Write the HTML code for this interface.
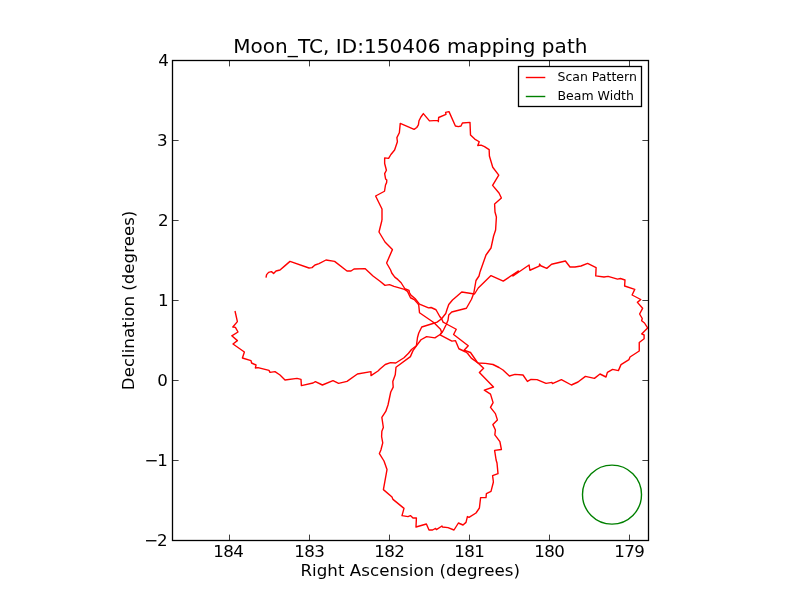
<!DOCTYPE html>
<html lang="en">
<head>
<meta charset="utf-8">
<title>Moon_TC, ID:150406 mapping path</title>
<style>
html,body{margin:0;padding:0;background:#fff;}
body{width:800px;height:600px;overflow:hidden;}
</style>
</head>
<body>
<svg width="800" height="600" viewBox="0 0 800 600" style="display:block;will-change:transform">
<rect x="0" y="0" width="800" height="600" fill="#ffffff"/>
<defs><clipPath id="ax"><rect x="172.5" y="60.5" width="476" height="480"/></clipPath></defs>
<g clip-path="url(#ax)" fill="none" stroke-linejoin="round" stroke-linecap="butt">
<polyline stroke="#ff0000" stroke-width="1.4" points="382.00,220.00 382.00,209.00 375.60,196.00 384.50,191.25 385.50,185.00 386.60,182.60 386.80,180.00 385.60,178.90 384.65,173.60 386.40,170.25 384.65,163.50 384.65,157.90 388.60,158.40 390.90,154.50 394.60,150.00 397.40,141.75 396.90,137.60 399.35,132.75 400.25,123.40 414.10,129.40 416.75,127.50 418.40,124.90 419.00,120.75 420.90,117.00 423.35,113.60 429.50,120.90 438.10,120.40 438.35,121.65 438.65,117.50 446.00,114.40 445.60,112.40 449.00,111.60 455.40,126.00 458.40,126.60 461.00,126.00 462.40,123.00 470.00,122.40 470.50,135.00 474.75,139.10 479.25,141.75 477.75,145.50 481.10,145.10 484.50,146.60 489.15,149.60 489.40,156.00 492.75,167.25 498.75,175.10 492.60,185.40 499.00,193.00 501.40,198.00 494.60,204.00 495.00,212.00 496.40,217.00 495.60,230.00 493.60,236.00 491.00,248.00 486.00,255.00 480.00,272.00"/>
<polyline stroke="#ff0000" stroke-width="1.4" points="382.00,220.00 379.00,232.00 385.00,242.00 392.40,249.60 386.60,263.00 390.60,270.00 391.75,273.00 394.75,277.10 397.75,279.40 401.10,282.75 404.90,288.75 409.00,290.40 409.40,292.50 410.90,295.10 415.00,298.50 419.50,304.10 428.50,307.90 431.10,307.50 436.00,309.75 439.75,316.50 441.60,318.75 443.10,322.10 446.50,324.00 456.25,329.25 453.60,334.50 468.25,345.75 464.10,350.25 470.50,352.50 477.25,362.25 483.60,368.25 479.40,372.40 493.50,387.00 484.35,390.20 490.50,394.10 493.10,402.60 490.50,407.40 495.40,413.60 497.40,419.90 492.90,424.60 495.40,430.00 494.85,434.90 499.90,441.60 501.40,449.50 494.60,450.40 496.10,460.00 497.00,463.00 498.00,473.60 492.60,475.60 493.40,482.00 491.00,491.40 486.40,493.60 486.00,497.60 480.60,497.60 479.40,508.00 476.00,513.00 469.00,517.40 467.40,516.60 466.00,522.40 463.00,525.00 458.40,523.00 454.00,530.00 448.00,527.60 442.40,527.00 442.00,526.00 436.40,529.60 435.60,528.40 432.60,530.00 429.00,530.00 426.40,524.00 416.00,527.00 416.40,518.00 413.00,518.00 410.40,515.60 408.00,516.60 402.00,515.60 404.00,508.40 393.00,499.40 392.00,497.00 383.40,489.60 387.00,469.60 384.00,461.00 379.40,453.60 380.90,450.00 382.75,442.90 381.60,436.50 381.85,431.25 383.35,427.50 381.85,417.40 385.75,411.40 388.00,405.00 390.75,392.00 393.20,387.10 392.80,381.50 395.25,374.75 396.00,367.25 410.40,356.60 413.00,350.60 416.60,345.60 421.00,339.75 426.60,336.60 434.90,337.90 440.10,334.50 442.00,332.60 443.50,330.00 446.10,324.75 448.00,320.25 448.75,315.00 451.75,312.00 466.40,308.25 471.50,299.25 473.75,293.25 476.00,280.50 479.00,276.00 480.00,272.00"/>
<polyline stroke="#ff0000" stroke-width="1.4" points="266.00,277.60 266.60,274.60 268.60,272.40 271.40,271.60 273.60,273.40 276.00,271.00 280.00,270.00 284.50,266.10 290.00,261.40 309.00,268.00 312.00,267.60 315.00,265.00 319.00,263.60 326.00,260.00 334.60,261.40 347.00,271.00 351.00,271.00 354.00,269.00 365.00,268.60 373.00,276.00 380.00,281.25 385.00,285.40 389.50,284.60 394.00,286.35 404.50,289.35 407.50,291.40 410.50,297.75 414.25,299.60 418.00,303.75 418.75,305.25 419.50,312.75 433.75,322.50 440.50,329.25 441.60,332.25 440.10,334.90 451.90,341.10 455.50,340.65 458.90,348.75 465.25,351.75 467.50,353.25 471.25,358.10 478.00,363.00 485.50,363.40 493.00,364.50 499.00,367.50 503.00,370.00 509.40,376.00 515.00,374.40 523.00,375.00 527.40,381.40 531.00,379.40 537.00,379.60 546.00,383.40 552.00,382.40 552.40,383.60 561.40,379.60 571.40,385.00 578.00,382.00 585.40,376.40 594.40,378.40 600.00,374.00 606.00,377.00 607.40,372.40 612.60,369.40 618.40,370.60 621.00,364.60 629.00,359.60 630.00,357.00 639.25,351.00 639.25,342.50 644.10,338.75 644.10,335.00 641.65,333.90 647.60,327.90 644.50,323.00 641.65,320.75 642.25,318.50 639.60,314.00 642.60,308.30 637.40,302.35 640.75,299.50 632.10,295.00 634.75,289.40 624.60,286.00 625.00,280.00 620.50,278.50 617.50,279.10 608.10,276.40 604.00,277.00 595.75,275.90 596.10,267.60 587.60,263.40 581.00,266.00 575.00,267.00 570.00,267.00 565.40,261.00 551.60,264.25 546.75,268.40 540.75,265.75 539.60,264.10 539.25,266.10 529.90,270.25 529.10,265.00 513.00,276.00 518.30,271.00 503.25,281.10 491.00,275.60 478.25,288.00 474.50,294.00 461.75,292.00 454.25,298.50 452.50,300.00 448.75,304.50 446.90,309.75 445.75,313.50 441.60,318.75 437.10,322.10 433.75,323.25 421.75,327.00 418.75,333.00 417.50,337.50 416.40,345.75 411.50,349.50 408.50,353.25 404.00,357.75 395.75,363.00 390.50,362.60 385.25,364.50 380.00,369.00 378.00,371.00 371.00,375.60 371.00,371.60 357.40,374.00 347.00,381.40 338.60,383.40 333.00,380.60 322.40,385.00 315.40,381.60 313.00,383.00 301.40,385.60 301.00,379.40 297.00,378.40 285.00,380.00 280.00,375.00 275.00,371.60 270.00,372.40 269.00,370.40 258.00,367.60 255.40,368.00 256.00,365.00 251.60,363.00 251.00,360.60 242.40,358.00 244.40,352.00 233.00,344.00 237.40,340.60 231.80,335.80 238.00,332.00 235.40,327.40 232.80,327.00 237.40,321.60 235.00,311.00"/>
<circle cx="612" cy="494.6" r="29.5" stroke="#008000" stroke-width="1.4"/>
</g>
<g stroke="#000" stroke-width="0.75">
<line x1="229.5" y1="540.5" x2="229.5" y2="534.6" />
<line x1="229.5" y1="60.5" x2="229.5" y2="66.4" />
<line x1="309.5" y1="540.5" x2="309.5" y2="534.6" />
<line x1="309.5" y1="60.5" x2="309.5" y2="66.4" />
<line x1="389.5" y1="540.5" x2="389.5" y2="534.6" />
<line x1="389.5" y1="60.5" x2="389.5" y2="66.4" />
<line x1="469.5" y1="540.5" x2="469.5" y2="534.6" />
<line x1="469.5" y1="60.5" x2="469.5" y2="66.4" />
<line x1="549.5" y1="540.5" x2="549.5" y2="534.6" />
<line x1="549.5" y1="60.5" x2="549.5" y2="66.4" />
<line x1="629.5" y1="540.5" x2="629.5" y2="534.6" />
<line x1="629.5" y1="60.5" x2="629.5" y2="66.4" />
<line x1="172.5" y1="60.5" x2="178.6" y2="60.5" />
<line x1="648.5" y1="60.5" x2="642.4" y2="60.5" />
<line x1="172.5" y1="140.5" x2="178.6" y2="140.5" />
<line x1="648.5" y1="140.5" x2="642.4" y2="140.5" />
<line x1="172.5" y1="220.5" x2="178.6" y2="220.5" />
<line x1="648.5" y1="220.5" x2="642.4" y2="220.5" />
<line x1="172.5" y1="300.5" x2="178.6" y2="300.5" />
<line x1="648.5" y1="300.5" x2="642.4" y2="300.5" />
<line x1="172.5" y1="380.5" x2="178.6" y2="380.5" />
<line x1="648.5" y1="380.5" x2="642.4" y2="380.5" />
<line x1="172.5" y1="460.5" x2="178.6" y2="460.5" />
<line x1="648.5" y1="460.5" x2="642.4" y2="460.5" />
<line x1="172.5" y1="540.5" x2="178.6" y2="540.5" />
<line x1="648.5" y1="540.5" x2="642.4" y2="540.5" />
</g>
<rect x="172.5" y="60.5" width="476" height="480" fill="none" stroke="#000" stroke-width="1.3"/>
<g font-family='"DejaVu Sans", "Liberation Sans", sans-serif' font-size="16.67px" fill="#000">
<text x="228.25" y="557.3" text-anchor="middle" letter-spacing="-0.6">184</text>
<text x="309.15" y="557.3" text-anchor="middle" letter-spacing="-0.6">183</text>
<text x="389.15" y="557.3" text-anchor="middle" letter-spacing="-0.6">182</text>
<text x="469.15" y="557.3" text-anchor="middle" letter-spacing="-0.6">181</text>
<text x="549.15" y="557.3" text-anchor="middle" letter-spacing="-0.6">180</text>
<text x="629.15" y="557.3" text-anchor="middle" letter-spacing="-0.6">179</text>
<text x="168.2" y="65.7" text-anchor="end" letter-spacing="-0.6">4</text>
<text x="166.95" y="145.7" text-anchor="end" letter-spacing="-0.6">3</text>
<text x="168.0" y="225.7" text-anchor="end" letter-spacing="-0.6">2</text>
<text x="168.05" y="305.7" text-anchor="end" letter-spacing="-0.6">1</text>
<text x="167.15" y="385.7" text-anchor="end" letter-spacing="-0.6">0</text>
<text x="166.6" y="465.7" text-anchor="end" letter-spacing="-1.2">−1</text>
<text x="166.2" y="545.7" text-anchor="end" letter-spacing="-1.35">−2</text>
<text x="410.2" y="576" text-anchor="middle" letter-spacing="0.04">Right Ascension (degrees)</text>
<text transform="translate(134,300.4) rotate(-90)" text-anchor="middle">Declination (degrees)</text>
</g>
<text x="410.4" y="53" text-anchor="middle" letter-spacing="0.05" font-family='"DejaVu Sans", "Liberation Sans", sans-serif' font-size="20px" fill="#000">Moon_TC, ID:150406 mapping path</text>
<rect x="518.5" y="66.5" width="123" height="40" fill="#fff" stroke="#000" stroke-width="1.3"/>
<line x1="525.8" y1="77.5" x2="545.3" y2="77.5" stroke="#ff0000" stroke-width="1.4"/>
<line x1="525.8" y1="96.5" x2="545.3" y2="96.5" stroke="#008000" stroke-width="1.4"/>
<g font-family='"DejaVu Sans", "Liberation Sans", sans-serif' font-size="12.5px" fill="#000">
<text x="557.5" y="81">Scan Pattern</text>
<text x="557.5" y="99.6">Beam Width</text>
</g>
</svg>
</body>
</html>
